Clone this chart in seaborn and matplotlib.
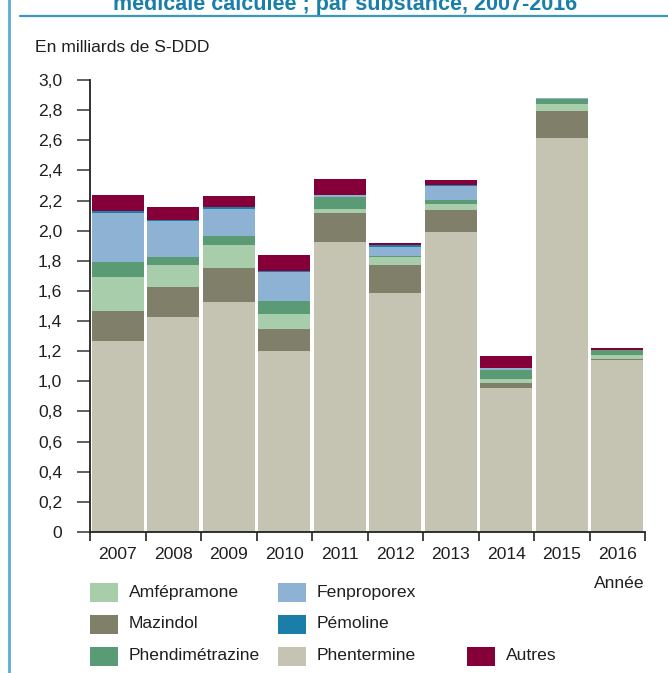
import matplotlib
matplotlib.use("Agg")
import matplotlib.pyplot as plt
import seaborn as sns
import pandas as pd
from matplotlib.patches import Rectangle
from matplotlib.lines import Line2D

# Consumption by substance, in billions of S-DDD
years = ["2007", "2008", "2009", "2010", "2011", "2012", "2013", "2014", "2015", "2016"]
phentermine = [1.27, 1.425, 1.525, 1.20, 1.925, 1.585, 1.99, 0.955, 2.615, 1.14]
mazindol = [0.20, 0.20, 0.225, 0.145, 0.19, 0.185, 0.145, 0.035, 0.18, 0.007]
amfepramone = [0.225, 0.145, 0.155, 0.105, 0.03, 0.055, 0.045, 0.025, 0.045, 0.028]
phendimetrazine = [0.10, 0.055, 0.06, 0.08, 0.08, 0.006, 0.025, 0.06, 0.035, 0.033]
fenproporex = [0.325, 0.24, 0.18, 0.195, 0.01, 0.06, 0.09, 0.015, 0.004, 0.0]
pemoline = [0.01, 0.006, 0.014, 0.006, 0.0, 0.013, 0.006, 0.0, 0.0, 0.0]
autres = [0.11, 0.088, 0.07, 0.105, 0.105, 0.014, 0.034, 0.075, 0.004, 0.012]

yticks = [0.0, 0.2, 0.4, 0.6, 0.8, 1.0, 1.2, 1.4, 1.6, 1.8, 2.0, 2.2, 2.4, 2.6, 2.8, 3.0]
ytick_labels = ["0", "0,2", "0,4", "0,6", "0,8", "1,0", "1,2", "1,4", "1,6", "1,8",
                "2,0", "2,2", "2,4", "2,6", "2,8", "3,0"]

# stacking order, bottom to top
layers = [
    ("Phentermine", phentermine, "#c5c4b2"),
    ("Mazindol", mazindol, "#807f69"),
    ("Amfépramone", amfepramone, "#a8cdab"),
    ("Phendimétrazine", phendimetrazine, "#5a9b75"),
    ("Fenproporex", fenproporex, "#8db2d4"),
    ("Pémoline", pemoline, "#1a7ea8"),
    ("Autres", autres, "#850038"),
]

sns.set_theme(style="white")
plt.rcParams["font.family"] = ["Liberation Sans", "DejaVu Sans"]
FS = 12.6
TXT = "#1f1f1f"

W, H = 668, 673
fig = plt.figure(figsize=(W / 100, H / 100), dpi=100)

def fx(px):
    return px / W

def fy(py):
    return 1 - py / H

ax = fig.add_axes([fx(90), fy(532), fx(645) - fx(90), fy(80) - fy(532)])

# cumulative totals, drawn from the top layer down so each lower layer covers the previous
rows = []
running = [0.0] * len(years)
for name, vals, color in layers:
    running = [r + v for r, v in zip(running, vals)]
    rows.append((name, list(running), color))

for name, cum, color in reversed(rows):
    df = pd.DataFrame({"Année": years, "valeur": cum})
    sns.barplot(data=df, x="Année", y="valeur", order=years, color=color,
                saturation=1, width=0.93, ax=ax, linewidth=0, errorbar=None)

ax.set_xlim(-0.5, len(years) - 0.5)
ax.set_ylim(0, 3.0)
ax.set_xlabel("")
ax.set_ylabel("")

for s in ["top", "right"]:
    ax.spines[s].set_visible(False)
for s in ["left", "bottom"]:
    ax.spines[s].set_color("#222222")
    ax.spines[s].set_linewidth(1.3)

ax.set_yticks(yticks)
ax.set_yticklabels(ytick_labels, fontsize=FS, color=TXT)
ax.tick_params(axis="y", which="major", direction="out", length=9.4, width=1.2,
               color="#444444", pad=10.5, left=True)

ax.set_xticks(range(len(years)))
ax.set_xticklabels(years, fontsize=FS, color=TXT)
ax.tick_params(axis="x", which="major", length=0, pad=10.5)
ax.set_xticks([i - 0.5 for i in range(len(years) + 1)], minor=True)
ax.tick_params(axis="x", which="minor", direction="out", length=6.5, width=1.2,
               color="#222222", bottom=True)

# axis captions
fig.text(fx(35), fy(47), "En milliards de S-DDD", fontsize=FS, color=TXT,
         ha="left", va="center")
fig.text(fx(645), fy(583), "Année", fontsize=FS, color=TXT, ha="right", va="center")

# heading band (the heading runs off the top edge)
fig.text(fx(345), fy(10), "médicale calculée ; par substance, 2007-2016",
         fontsize=15.5, fontweight="bold", color="#1a7fa8", ha="center", va="baseline")
fig.add_artist(Line2D([fx(20), 1.0], [fy(15.5), fy(15.5)], color="#3b97bf", lw=1.6))
fig.add_artist(Line2D([fx(9), fx(9)], [0, 1], color="#5aaed2", lw=2.0))

# legend
legend_items = [
    ("Amfépramone", "#a8cdab", 90, 592),
    ("Mazindol", "#807f69", 90, 624),
    ("Phendimétrazine", "#5a9b75", 90, 656),
    ("Fenproporex", "#8db2d4", 278, 592),
    ("Pémoline", "#1a7ea8", 278, 624),
    ("Phentermine", "#c5c4b2", 278, 656),
    ("Autres", "#850038", 467, 656),
]
for label, color, x0, yc in legend_items:
    fig.add_artist(Rectangle((fx(x0), fy(yc + 9.5)), fx(28), 19 / H,
                             facecolor=color, edgecolor="none", transform=fig.transFigure))
    fig.text(fx(x0 + 39), fy(yc), label, fontsize=FS, color=TXT, ha="left", va="center")

fig.savefig("out.png", dpi=100)
